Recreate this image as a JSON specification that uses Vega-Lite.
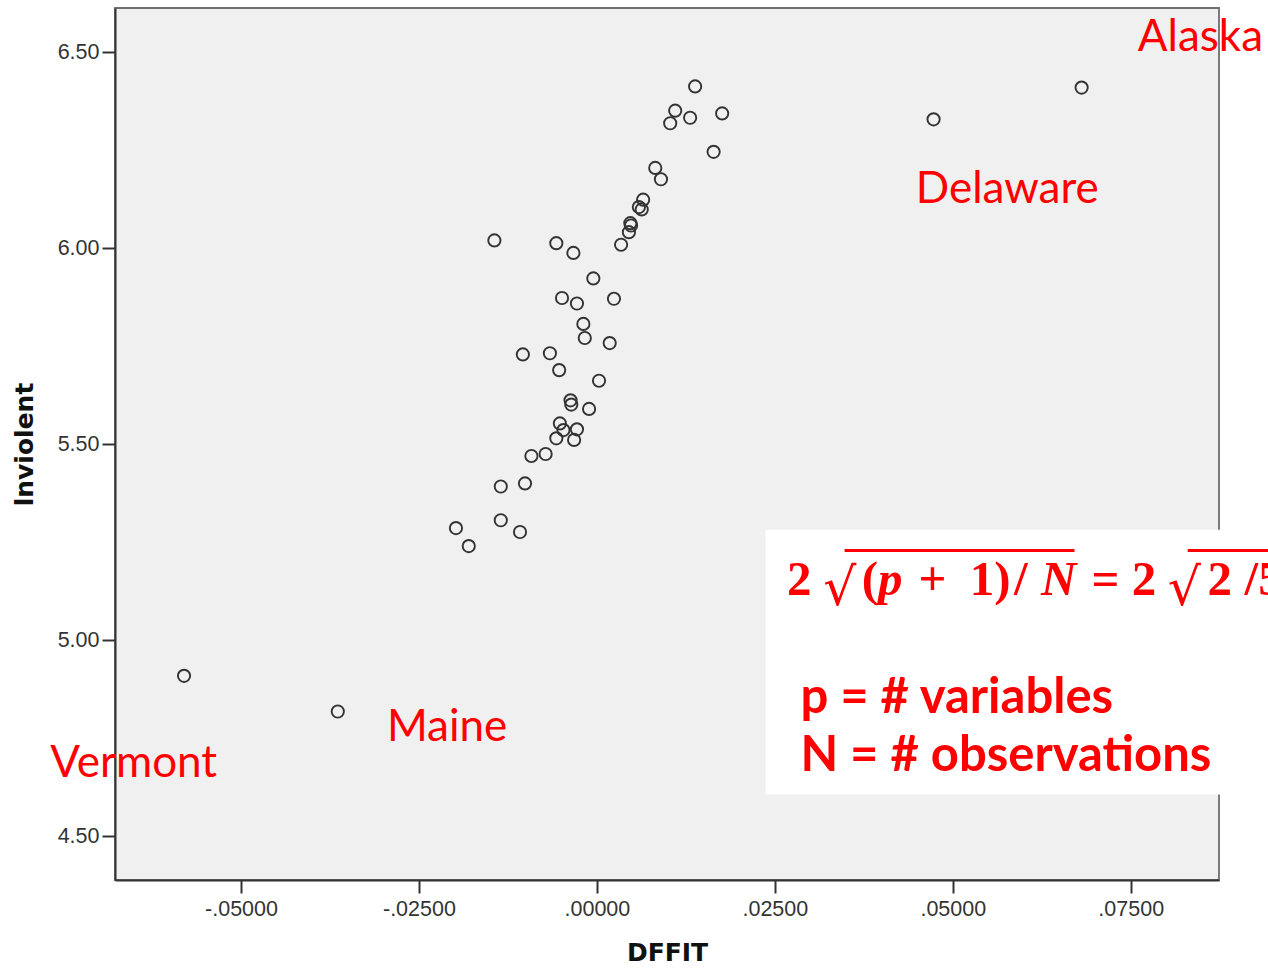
{
  "$schema": "https://vega.github.io/schema/vega-lite/v6.json",
  "width": 1104,
  "height": 872,
  "autosize": {"type": "none"},
  "padding": {"left": 115, "top": 8, "right": 49, "bottom": 88},
  "background": "white",
  "config": {
    "view": {"fill": "#f0f0f0", "stroke": "#6f6f6f", "strokeWidth": 1.8},
    "axis": {
      "grid": false,
      "domainColor": "#333333",
      "domainWidth": 2,
      "tickColor": "#333333",
      "tickWidth": 2,
      "tickSize": 13,
      "labelFont": "Liberation Sans",
      "labelFontSize": 21.5,
      "labelColor": "#333333",
      "titleFont": "DejaVu Sans",
      "titleFontSize": 25,
      "titleFontWeight": "bold",
      "titleColor": "#111111"
    }
  },
  "datasets": {
    "points": [
      {"state": "Vermont", "dffit": -0.0580, "lnviolent": 4.909},
      {"state": "Maine", "dffit": -0.0364, "lnviolent": 4.818},
      {"state": "Delaware", "dffit": 0.0473, "lnviolent": 6.329},
      {"state": "Alaska", "dffit": 0.0681, "lnviolent": 6.410},
      {"state": "", "dffit": -0.0144, "lnviolent": 6.020},
      {"state": "", "dffit": -0.0057, "lnviolent": 6.013},
      {"state": "", "dffit": -0.0033, "lnviolent": 5.988},
      {"state": "", "dffit": -0.0005, "lnviolent": 5.923},
      {"state": "", "dffit": -0.0049, "lnviolent": 5.873},
      {"state": "", "dffit": -0.0028, "lnviolent": 5.859},
      {"state": "", "dffit": 0.0024, "lnviolent": 5.871},
      {"state": "", "dffit": -0.0019, "lnviolent": 5.807},
      {"state": "", "dffit": -0.0017, "lnviolent": 5.771},
      {"state": "", "dffit": 0.0018, "lnviolent": 5.758},
      {"state": "", "dffit": -0.0104, "lnviolent": 5.729},
      {"state": "", "dffit": -0.0066, "lnviolent": 5.732},
      {"state": "", "dffit": -0.0053, "lnviolent": 5.689},
      {"state": "", "dffit": 0.0003, "lnviolent": 5.662},
      {"state": "", "dffit": -0.0037, "lnviolent": 5.612},
      {"state": "", "dffit": -0.0036, "lnviolent": 5.601},
      {"state": "", "dffit": -0.0011, "lnviolent": 5.590},
      {"state": "", "dffit": -0.0052, "lnviolent": 5.553},
      {"state": "", "dffit": -0.0028, "lnviolent": 5.538},
      {"state": "", "dffit": -0.0057, "lnviolent": 5.515},
      {"state": "", "dffit": -0.0032, "lnviolent": 5.511},
      {"state": "", "dffit": -0.0047, "lnviolent": 5.536},
      {"state": "", "dffit": -0.0072, "lnviolent": 5.475},
      {"state": "", "dffit": -0.0092, "lnviolent": 5.470},
      {"state": "", "dffit": -0.0101, "lnviolent": 5.400},
      {"state": "", "dffit": -0.0135, "lnviolent": 5.392},
      {"state": "", "dffit": -0.0135, "lnviolent": 5.306},
      {"state": "", "dffit": -0.0108, "lnviolent": 5.276},
      {"state": "", "dffit": -0.0198, "lnviolent": 5.286},
      {"state": "", "dffit": -0.0180, "lnviolent": 5.240},
      {"state": "", "dffit": 0.0138, "lnviolent": 6.413},
      {"state": "", "dffit": 0.0110, "lnviolent": 6.351},
      {"state": "", "dffit": 0.0131, "lnviolent": 6.333},
      {"state": "", "dffit": 0.0103, "lnviolent": 6.319},
      {"state": "", "dffit": 0.0176, "lnviolent": 6.344},
      {"state": "", "dffit": 0.0164, "lnviolent": 6.246},
      {"state": "", "dffit": 0.0082, "lnviolent": 6.205},
      {"state": "", "dffit": 0.0090, "lnviolent": 6.176},
      {"state": "", "dffit": 0.0065, "lnviolent": 6.124},
      {"state": "", "dffit": 0.0059, "lnviolent": 6.105},
      {"state": "", "dffit": 0.0063, "lnviolent": 6.099},
      {"state": "", "dffit": 0.0047, "lnviolent": 6.064},
      {"state": "", "dffit": 0.0048, "lnviolent": 6.058},
      {"state": "", "dffit": 0.0045, "lnviolent": 6.041},
      {"state": "", "dffit": 0.0034, "lnviolent": 6.009}
    ],
    "names": [
      {"label": "Alaska", "x": 0.0760, "y": 6.504},
      {"label": "Delaware", "x": 0.0448, "y": 6.1145},
      {"label": "Maine", "x": -0.0295, "y": 4.7438},
      {"label": "Vermont", "x": -0.0768, "y": 4.652}
    ],
    "box": [{"x": 0.0237, "x2": 0.1, "y": 5.2814, "y2": 4.6063}],
    "formula": [
      {"label": "2", "x": 0.0267, "y": 5.1158},
      {"label": "(", "x": 0.0372, "y": 5.1158},
      {"label": "+", "x": 0.0452, "y": 5.1158},
      {"label": "1)", "x": 0.0524, "y": 5.1158},
      {"label": "/", "x": 0.0586, "y": 5.1158},
      {"label": "= 2", "x": 0.0695, "y": 5.1158},
      {"label": "2", "x": 0.0858, "y": 5.1158},
      {"label": "/5", "x": 0.0910, "y": 5.1158}
    ],
    "formulaItalic": [
      {"label": "p", "x": 0.0395, "y": 5.1158},
      {"label": "N", "x": 0.0624, "y": 5.1158}
    ],
    "radicals": [
      {"label": "√", "x": 0.0318, "y": 5.1158},
      {"label": "√", "x": 0.0802, "y": 5.1158}
    ],
    "bars": [
      {"x": 0.0348, "x2": 0.0671, "y": 5.2287},
      {"x": 0.0830, "x2": 0.0961, "y": 5.2287}
    ],
    "legendLines": [
      {"label": "p = # variables", "x": 0.0286, "y": 4.8152},
      {"label": "N = # observations", "x": 0.0286, "y": 4.6674}
    ]
  },
  "layer": [
    {
      "data": {"name": "points"},
      "mark": {"type": "point", "shape": "circle", "filled": false, "size": 150, "stroke": "#333333", "strokeWidth": 1.9, "opacity": 1},
      "encoding": {
        "x": {
          "field": "dffit", "type": "quantitative", "title": "DFFIT",
          "scale": {"domain": [-0.0677, 0.0874], "nice": false, "zero": false},
          "axis": {
            "values": [-0.05, -0.025, 0, 0.025, 0.05, 0.075],
            "labelExpr": "replace(replace(format(datum.value, '.5f'), '0.', '.'), '\u2212', '-')",
            "labelPadding": 5,
            "titlePadding": 21
          }
        },
        "y": {
          "field": "lnviolent", "type": "quantitative", "title": "lnviolent",
          "scale": {"domain": [4.388, 6.613], "nice": false, "zero": false},
          "axis": {
            "values": [4.5, 5.0, 5.5, 6.0, 6.5],
            "format": ".2f",
            "labelPadding": 3,
            "titlePadding": 20
          }
        }
      }
    },
    {
      "data": {"name": "names"},
      "mark": {"type": "text", "align": "left", "baseline": "alphabetic", "font": "Lato", "fontSize": 44, "color": "#ff0000", "clip": false},
      "encoding": {
        "x": {"field": "x", "type": "quantitative"},
        "y": {"field": "y", "type": "quantitative"},
        "text": {"field": "label"}
      }
    },
    {
      "data": {"name": "box"},
      "mark": {"type": "rect", "fill": "white", "stroke": null},
      "encoding": {
        "x": {"field": "x", "type": "quantitative"},
        "x2": {"field": "x2"},
        "y": {"field": "y", "type": "quantitative"},
        "y2": {"field": "y2"}
      }
    },
    {
      "data": {"name": "formula"},
      "mark": {"type": "text", "align": "left", "baseline": "alphabetic", "font": "Liberation Serif", "fontWeight": "bold", "fontSize": 49, "color": "#ff0000"},
      "encoding": {
        "x": {"field": "x", "type": "quantitative"},
        "y": {"field": "y", "type": "quantitative"},
        "text": {"field": "label"}
      }
    },
    {
      "data": {"name": "formulaItalic"},
      "mark": {"type": "text", "align": "left", "baseline": "alphabetic", "font": "Liberation Serif", "fontWeight": "bold", "fontStyle": "italic", "fontSize": 49, "color": "#ff0000"},
      "encoding": {
        "x": {"field": "x", "type": "quantitative"},
        "y": {"field": "y", "type": "quantitative"},
        "text": {"field": "label"}
      }
    },
    {
      "data": {"name": "radicals"},
      "mark": {"type": "text", "align": "left", "baseline": "alphabetic", "font": "DejaVu Serif", "fontSize": 52, "color": "#ff0000", "dy": 10},
      "encoding": {
        "x": {"field": "x", "type": "quantitative"},
        "y": {"field": "y", "type": "quantitative"},
        "text": {"field": "label"}
      }
    },
    {
      "data": {"name": "bars"},
      "mark": {"type": "rule", "color": "#ff0000", "strokeWidth": 3},
      "encoding": {
        "x": {"field": "x", "type": "quantitative"},
        "x2": {"field": "x2"},
        "y": {"field": "y", "type": "quantitative"}
      }
    },
    {
      "data": {"name": "legendLines"},
      "mark": {"type": "text", "align": "left", "baseline": "alphabetic", "font": "Lato", "fontWeight": "bold", "fontSize": 49, "color": "#ff0000"},
      "encoding": {
        "x": {"field": "x", "type": "quantitative"},
        "y": {"field": "y", "type": "quantitative"},
        "text": {"field": "label"}
      }
    }
  ]
}
